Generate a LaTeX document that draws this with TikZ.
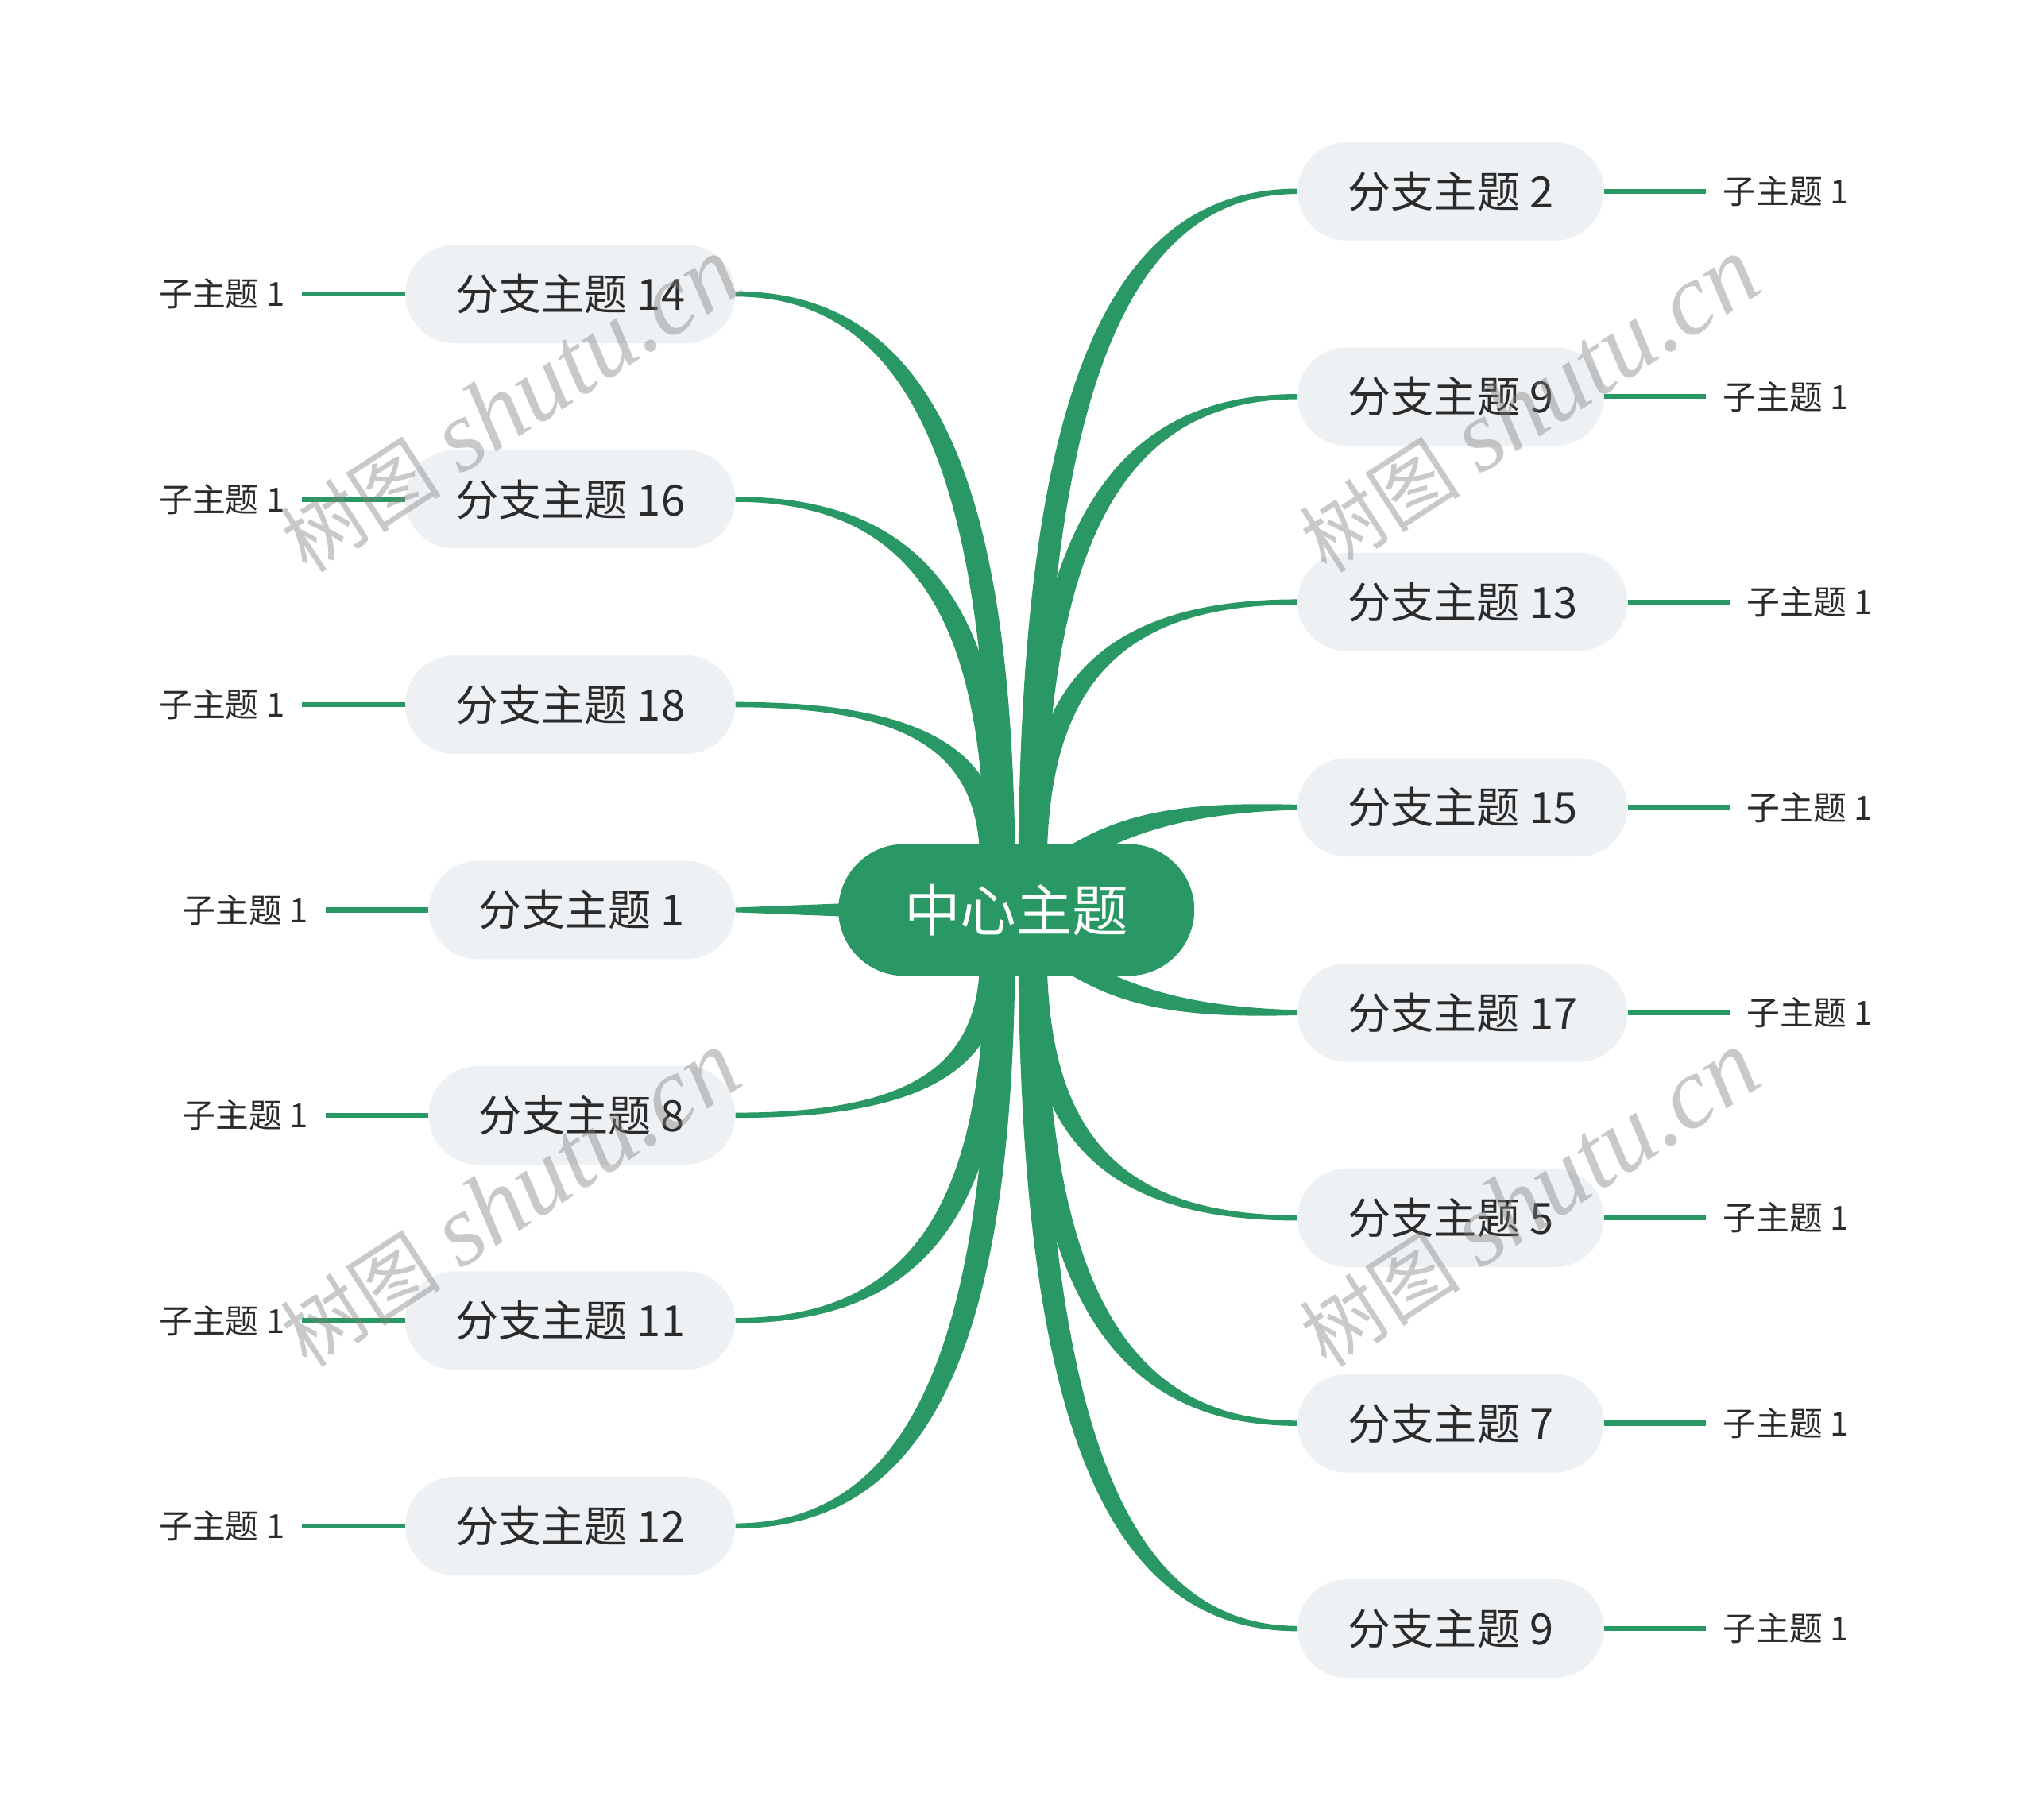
\documentclass[tikz,border=0pt]{standalone}
\usepackage{fontspec}
\setmainfont{Liberation Serif}
\newfontfamily\cjk{Noto Sans CJK SC}
\usetikzlibrary{calc,backgrounds}
\definecolor{mgreen}{HTML}{2A9865}
\definecolor{nodebg}{HTML}{EEF1F4}
\definecolor{txt}{HTML}{2B2B2B}
\definecolor{wmgray}{HTML}{808080}
% tapered connector: #1 start, #2 control 1, #3 control 2, #4 end, #5 start offset, #6 control-2 offset, #7 end offset
\newcommand\taperbranch[7]{%
  \fill[branchfill] ($(#1)+(#5)$) .. controls ($(#2)+(#5)$) and ($(#3)+(#6)$) .. ($(#4)+(#7)$)
    -- ($(#4)-(#7)$) .. controls ($(#3)-(#6)$) and ($(#2)-(#5)$) .. ($(#1)-(#5)$) -- cycle;}
\tikzset{
  ctrbox/.style={fill=mgreen, rounded corners=50.5pt, minimum width=273pt, minimum height=101pt,
    inner sep=0pt, text=white, font=\cjk\fontsize{43}{43}\selectfont},
  brbox/.style={fill=nodebg, rounded corners=37.75pt, minimum width=235pt, minimum height=75.5pt,
    inner sep=0pt, text=txt, font=\cjk\fontsize{33}{33}\selectfont},
  brwide/.style={brbox, minimum width=253pt},
  subtx/.style={inner xsep=13pt, inner ysep=0pt, text=txt, font=\cjk\fontsize{25.5}{25.5}\selectfont},
  subline/.style={draw=mgreen, line width=3.8pt},
  branchfill/.style={fill=mgreen},
  wmark/.style={text=wmgray, opacity=0.42, rotate=33, inner sep=0pt, font=\fontsize{62}{62}\selectfont}
}
\begin{document}
\begin{tikzpicture}[x=1pt, y=-1pt]
\useasboundingbox (0,0) rectangle (1560,1396);
% central topic
\node[ctrbox] (ctr) at (779.5,698) {中心主题};
% right branches
\node[brbox, anchor=west] (r2)  at (995,146.75)  {分支主题 2};
\node[brbox, anchor=west] (r9)  at (995,304.25)  {分支主题 9};
\node[brwide, anchor=west] (r13) at (995,461.75) {分支主题 13};
\node[brwide, anchor=west] (r15) at (995,619.25) {分支主题 15};
\node[brwide, anchor=west] (r17) at (995,776.75) {分支主题 17};
\node[brbox, anchor=west] (r5)  at (995,934.25)  {分支主题 5};
\node[brbox, anchor=west] (r7)  at (995,1091.75) {分支主题 7};
\node[brbox, anchor=west] (r9b) at (995,1249.25) {分支主题 9};
% left branches
\node[brwide, anchor=east] (l14) at (564,225.5)  {分支主题 14};
\node[brwide, anchor=east] (l16) at (564,383)    {分支主题 16};
\node[brwide, anchor=east] (l18) at (564,540.5)  {分支主题 18};
\node[brbox, anchor=east]  (l1)  at (564,698)    {分支主题 1};
\node[brbox, anchor=east]  (l8)  at (564,855.5)  {分支主题 8};
\node[brwide, anchor=east] (l11) at (564,1013)   {分支主题 11};
\node[brwide, anchor=east] (l12) at (564,1170.5) {分支主题 12};
% sub topics right
\foreach \n in {r2,r9,r13,r15,r17,r5,r7,r9b}{
  \node[subtx, anchor=west] (s\n) at ($(\n.east)+(78,0)$) {子主题 1};
  \draw[subline] (\n.east) -- (s\n.west);
}
% sub topics left
\foreach \n in {l14,l16,l18,l1,l8,l11,l12}{
  \node[subtx, anchor=east] (s\n) at ($(\n.west)+(-79,0)$) {子主题 1};
  \draw[subline] (\n.west) -- (s\n.east);
}
% start points of the tapered connectors
\coordinate (a14) at ($(ctr.north)+(-10.5,8.5)$);
\coordinate (a16) at ($(ctr.north)+(-14.5,8.5)$);
\coordinate (a18) at ($(ctr.north)+(-18.5,8.5)$);
\coordinate (a2)  at ($(ctr.north)+(10.5,8.5)$);
\coordinate (a9)  at ($(ctr.north)+(12.5,8.5)$);
\coordinate (a13) at ($(ctr.north)+(14.5,8.5)$);
\coordinate (a15) at ($(ctr.north)+(25.5,20.5)$);
\coordinate (a17) at ($(ctr.south)+(25.5,-20.5)$);
\coordinate (a8)  at ($(ctr.south)+(-18.5,-8.5)$);
\coordinate (a11) at ($(ctr.south)+(-14.5,-8.5)$);
\coordinate (a12) at ($(ctr.south)+(-10.5,-8.5)$);
\coordinate (a5)  at ($(ctr.south)+(14.5,-8.5)$);
\coordinate (a7)  at ($(ctr.south)+(12.5,-8.5)$);
\coordinate (a9b) at ($(ctr.south)+(10.5,-8.5)$);
\begin{scope}[on background layer]
  \fill[white] (0,0) rectangle (1560,1396);
  % upper left
  \taperbranch{a14}{766,380.5}{713,225.5}{l14.east}{9.5,0}{8,-2}{0,-2}
  \taperbranch{a16}{762,481}{713,383}{l16.east}{9.5,0}{8,-2}{0,-2}
  \taperbranch{a18}{758,582}{713,540.5}{l18.east}{9.5,0}{8,-2}{0,-2}
  % upper right
  \taperbranch{a2}{793,330}{846,146.75}{r2.west}{9,0}{8,2}{0,2}
  \taperbranch{a9}{795,431}{846,304.25}{r9.west}{9,0}{8,2}{0,2}
  \taperbranch{a13}{797,532}{846,461.75}{r13.west}{9,0}{8,2}{0,2}
  % near-horizontal right
  \taperbranch{a15}{855,632}{905,619.25}{r15.west}{0,9}{0,4.5}{0,2}
  \taperbranch{a17}{855,764}{905,776.75}{r17.west}{0,9}{0,4.5}{0,2}
  % lower left
  \taperbranch{a8}{758,814}{713,855.5}{l8.east}{9.5,0}{8,2}{0,2}
  \taperbranch{a11}{762,915}{713,1013}{l11.east}{9.5,0}{8,2}{0,2}
  \taperbranch{a12}{766,1015.5}{713,1170.5}{l12.east}{9.5,0}{8,2}{0,2}
  % lower right
  \taperbranch{a5}{797,864}{846,934.25}{r5.west}{9,0}{8,-2}{0,-2}
  \taperbranch{a7}{795,965}{846,1091.75}{r7.west}{9,0}{8,-2}{0,-2}
  \taperbranch{a9b}{793,1066}{846,1249.25}{r9b.west}{9,0}{8,-2}{0,-2}
  % straight left
  \fill[branchfill] ($(ctr.west)+(17,-5.5)$) -- ($(l1.east)+(0,-1.8)$) -- ($(l1.east)+(0,1.8)$) -- ($(ctr.west)+(17,5.5)$) -- cycle;
\end{scope}
% watermarks
\node[wmark] (w1) at (391,311)  {{\cjk 树图} {\itshape\fontsize{78}{78}\selectfont shutu.cn}};
\node[wmark] (w2) at (1173,311) {{\cjk 树图} {\itshape\fontsize{78}{78}\selectfont shutu.cn}};
\node[wmark] (w3) at (391,920)  {{\cjk 树图} {\itshape\fontsize{78}{78}\selectfont shutu.cn}};
\node[wmark] (w4) at (1173,920) {{\cjk 树图} {\itshape\fontsize{78}{78}\selectfont shutu.cn}};
\end{tikzpicture}
\end{document}
